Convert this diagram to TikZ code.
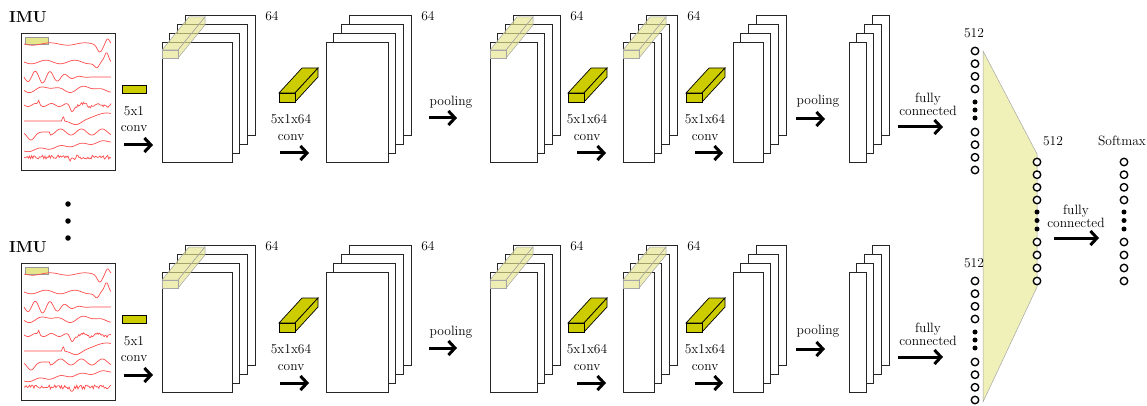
\documentclass[tikz,border=0pt]{standalone}
\usepackage{xcolor}
\usepackage{tikz}
\usetikzlibrary{arrows.meta, positioning, calc}

\definecolor{kernyellow}{RGB}{204,204,0}
\definecolor{hlyellow}{RGB}{230,230,140}
\definecolor{fcyellow}{RGB}{240,240,185}

\begin{document}
\begin{tikzpicture}[
    x=1pt, y=-1pt,
    declare function={bump(\t,\c,\w)=exp(-(\t-\c)*(\t-\c)/(\w*\w));},
    sheet/.style={draw=black!85, fill=white, line width=0.85pt, inner sep=0pt, outer sep=0pt, anchor=north west},
    kern/.style={draw=black, fill=kernyellow, line width=0.7pt},
    hlbar/.style={draw=black!35, fill=hlyellow, fill opacity=0.65, line width=0.5pt},
    lbl/.style={font=\fontsize{13.5}{16.5}\selectfont, align=center, inner sep=0pt},
    fclbl/.style={font=\fontsize{13.5}{10}\selectfont, align=center, inner sep=0pt},
    imulbl/.style={font=\fontsize{16}{18}\selectfont\bfseries, inner sep=0pt},
    bigarr/.style={line width=3pt, -{Straight Barb[length=6.5pt,width=14pt]}},
    neuron/.style={circle, draw, line width=1.35pt, fill=white, minimum size=7.5pt, inner sep=0pt},
    ndot/.style={circle, fill, minimum size=5pt, inner sep=0pt},
    sig/.style={red!70, line width=0.7pt},
]
\useasboundingbox (0,0) rectangle (1147,406);

% fully connected merge
\filldraw[fill=fcyellow, draw=black!35, line width=0.5pt]
    (983,51) -- (1037,154) -- (1037,287) -- (983,402) -- cycle;

\foreach \dy/\r in {0/t,230/b}{
\begin{scope}[shift={(0,\dy)}]
% input
\node[imulbl] (imu\r) at (28,17) {IMU};
\node[sheet, minimum width=94pt, minimum height=137pt] (rec\r) at (21,33) {};
\node[anchor=north west, draw=black!40, fill=hlyellow, minimum width=23pt, minimum height=7pt, inner sep=0pt] (win\r) at (25,37) {};
\draw[sig] plot[domain=0:1, samples=70, smooth, variable=\t] ({24+87*\t}, {44 + 1.2*sin(900*\t) + 7*bump(\t,0.87,0.04) - 6*bump(\t,0.96,0.03)});
\draw[sig] plot[domain=0:1, samples=70, smooth, variable=\t] ({24+87*\t}, {62 + 1.8*sin(1080*\t) + 6*bump(\t,0.84,0.04) - 8*bump(\t,0.95,0.03)});
\draw[sig] plot[domain=0:1, samples=90, smooth, variable=\t] ({24+87*\t}, {77 + 6*sin(2100*\t)*bump(\t,0.2,0.3)});
\draw[sig] plot[domain=0:1, samples=70, smooth, variable=\t] ({24+87*\t}, {89 + 2.2*sin(800*\t+40) + 1.4*sin(1500*\t)});
\draw[sig] plot[domain=0:1, samples=90, variable=\t] ({24+87*\t}, {105 + 1.5*sin(2000*\t) - 4*bump(\t,0.17,0.012) + 6*bump(\t,0.55,0.03) + 1.5*rand*(\t>0.6)});
\draw[sig] plot[domain=0:1, samples=80, smooth, variable=\t] ({24+87*\t}, {121 - 5*bump(\t,0.45,0.01) + 4*bump(\t,0.6,0.08) - 8*bump(\t,0.95,0.2)});
\draw[sig] plot[domain=0:1, samples=80, smooth, variable=\t] ({24+87*\t}, {132 + 8*bump(\t,0.08,0.06) + 3*sin(1500*\t)*(\t>0.3)});
\draw[sig] plot[domain=0:1, samples=60, smooth, variable=\t] ({24+87*\t}, {151 - 10*\t + 1.2*sin(1500*\t)});
\draw[sig] plot[domain=0:1, samples=80, variable=\t] ({24+87*\t}, {157 + 2*rand + 3*bump(\t,0.55,0.03)});
% first conv
\node[kern, anchor=north west, minimum width=24pt, minimum height=8pt, inner sep=0pt] (k0\r) at (122,85) {};
\node[lbl] (lc0\r) at (134,119) {5x1\\conv};
% feature maps
\foreach \sx/\sw/\s in {162/70/1,326/62/2,490/47/3,623/31/4,733/30/5,849/17/6}
  \foreach \k in {3,2,1,0}
    \node[sheet, minimum width=\sw pt, minimum height=120pt] (fm\r\s\k) at ({\sx+7.7*\k},{42-8.7*\k}) {};
\foreach \s in {1,2,3,4}
  \node[lbl, right=10pt of fm\r\s3.north east] (d\r\s) {64};
% receptive field bars
\foreach \bx in {162,490,623}{
  \filldraw[hlbar] (\bx,50) -- ({\bx+27},17) -- ({\bx+43},17) -- ({\bx+16},50) -- cycle;
  \filldraw[hlbar] ({\bx+16},50) -- ({\bx+43},17) -- ({\bx+43},25) -- ({\bx+16},58) -- cycle;
  \filldraw[hlbar] (\bx,50) rectangle ++(16,8);
}
% 5x1x64 kernels
\foreach \kx/\i in {279/1,568/2,686/3}{
  \filldraw[kern] (\kx,93) -- ++(23,-25) -- ++(16,0) -- ++(-23,25) -- cycle;
  \filldraw[kern] ({\kx+16},93) -- ++(23,-25) -- ++(0,9) -- ++(-23,25) -- cycle;
  \filldraw[kern] (\kx,93) rectangle ++(16,9);
}
\node[lbl] (lc1\r) at (291,127.5) {5x1x64\\conv};
\node[lbl] (lc2\r) at (587,127.5) {5x1x64\\conv};
\node[lbl] (lc3\r) at (705,127.5) {5x1x64\\conv};
\node[lbl] (lp1\r) at (451,102) {pooling};
\node[lbl] (lp2\r) at (818,101) {pooling};
\node[fclbl] (lfc\r) at (928,104) {fully\\connected};
\foreach \ax/\ay/\al in {124/145/29, 280/153/29, 429/118/28, 577/153/29, 695/153/28, 796/119/29, 898/127/45}
  \draw[bigarr] (\ax,\ay) -- ++(\al,0);
% 512 units
\node[lbl] (h\r) at (974,33) {512};
\foreach \y [count=\i] in {51,63.7,76.3,89,132,144.7,157.3,170}
  \node[neuron] (in\r\i) at (975,\y) {};
\foreach \y [count=\i] in {102,110,118}
  \node[ndot] (ind\r\i) at (975,\y) {};
\end{scope}
}

% vertical ellipsis between the rows
\foreach \y [count=\i] in {204,221,238}
  \node[ndot, minimum size=5.5pt] (vd\i) at (68,\y) {};

% merged layer and softmax
\node[lbl] (hm) at (1053,141) {512};
\node[lbl] (hs) at (1122,141) {Softmax};
\foreach \cx/\c in {1037/m,1124/s}{
  \foreach \y [count=\i] in {162,174.7,187.3,200,242,255,268,281}
    \node[neuron] (\c\i) at (\cx,\y) {};
  \foreach \y [count=\i] in {212,220.5,229}
    \node[ndot] (\c d\i) at (\cx,\y) {};
}
\node[fclbl] (lfc) at (1076,216) {fully\\connected};
\draw[bigarr] (1054,238) -- (1099,238);
\end{tikzpicture}
\end{document}
